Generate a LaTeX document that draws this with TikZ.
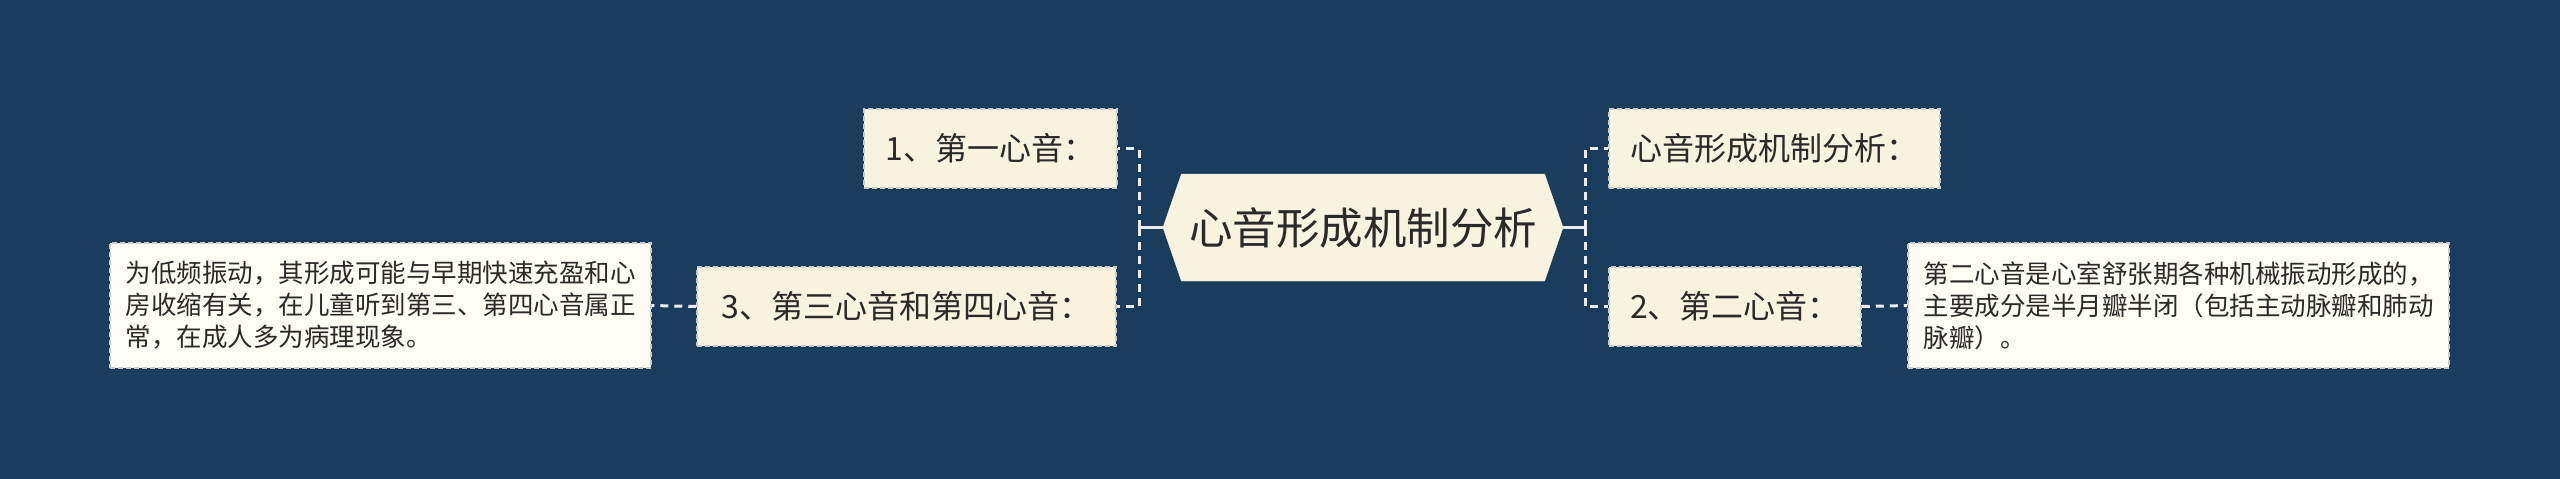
\documentclass[tikz,border=0pt]{standalone}
\usepackage{fontspec}
\newfontfamily\cjk{Noto Sans CJK SC}
\usetikzlibrary{shapes.symbols}
\definecolor{bg}{HTML}{1A3D5D}
\definecolor{cream}{HTML}{F8F3DF}
\definecolor{paper}{HTML}{FEFCF4}
\definecolor{ink}{HTML}{2A2A2A}
\definecolor{edge}{HTML}{C9C9C9}
\definecolor{wire}{HTML}{ECECEC}
\tikzset{
  topic/.style={rectangle, fill=cream, draw=edge, line width=1.5pt,
    dash pattern=on 5pt off 3pt, inner sep=0pt, text=ink,
    font=\cjk\fontsize{32}{38}\selectfont, minimum height=79pt},
  detail/.style={rectangle, fill=paper, draw=edge, line width=1.5pt,
    dash pattern=on 5pt off 3pt, inner sep=0pt, text=ink, align=left,
    font=\cjk\fontsize{25.5}{32}\selectfont, minimum width=541pt, minimum height=125pt},
  root/.style={signal, signal to=west and east, signal pointer angle=142,
    fill=cream, draw=cream, inner sep=0pt, text=ink,
    font=\cjk\fontsize{43.5}{50}\selectfont, minimum width=400pt, minimum height=107pt},
  wireline/.style={draw=wire, line width=3pt, dash pattern=on 8pt off 6pt},
  stub/.style={draw=wire, line width=3pt}
}
\begin{document}
\begin{tikzpicture}[x=1pt,y=-1pt]
\useasboundingbox (0,0) rectangle (2560,479);
\fill[bg] (0,0) rectangle (2560,479);

\node[root] (c) at (1363,227.5) {心音形成机制分析};

\node[topic, minimum width=253pt] (n1) at (990.5,148.5) {1、第一心音：};
\node[topic, minimum width=419pt] (n3) at (906.5,306.5) {3、第三心音和第四心音：};
\node[topic, minimum width=331pt] (n4) at (1774.5,148.5) {心音形成机制分析：};
\node[topic, minimum width=252pt] (n2) at (1735,306.5) {2、第二心音：};

\node[detail] (d3) at (380.5,305.5) {为低频振动，其形成可能与早期快速充盈和心\\房收缩有关，在儿童听到第三、第四心音属正\\常，在成人多为病理现象。};
\node[detail] (d2) at (2178.5,305.5) {第二心音是心室舒张期各种机械振动形成的，\\主要成分是半月瓣半闭（包括主动脉瓣和肺动\\脉瓣）。};

\coordinate (lj) at (1139,227.5);
\coordinate (rj) at (1585,227.5);

\draw[stub] (c.west) -- (lj);
\draw[stub] (c.east) -- (rj);
\draw[wireline] (lj) |- (n1.east);
\draw[wireline] (lj) |- (n3.east);
\draw[wireline] (rj) |- (n4.west);
\draw[wireline] (rj) |- (n2.west);
\draw[wireline] (n3.west) -- (d3.east);
\draw[wireline] (n2.east) -- (d2.west);
\end{tikzpicture}
\end{document}
